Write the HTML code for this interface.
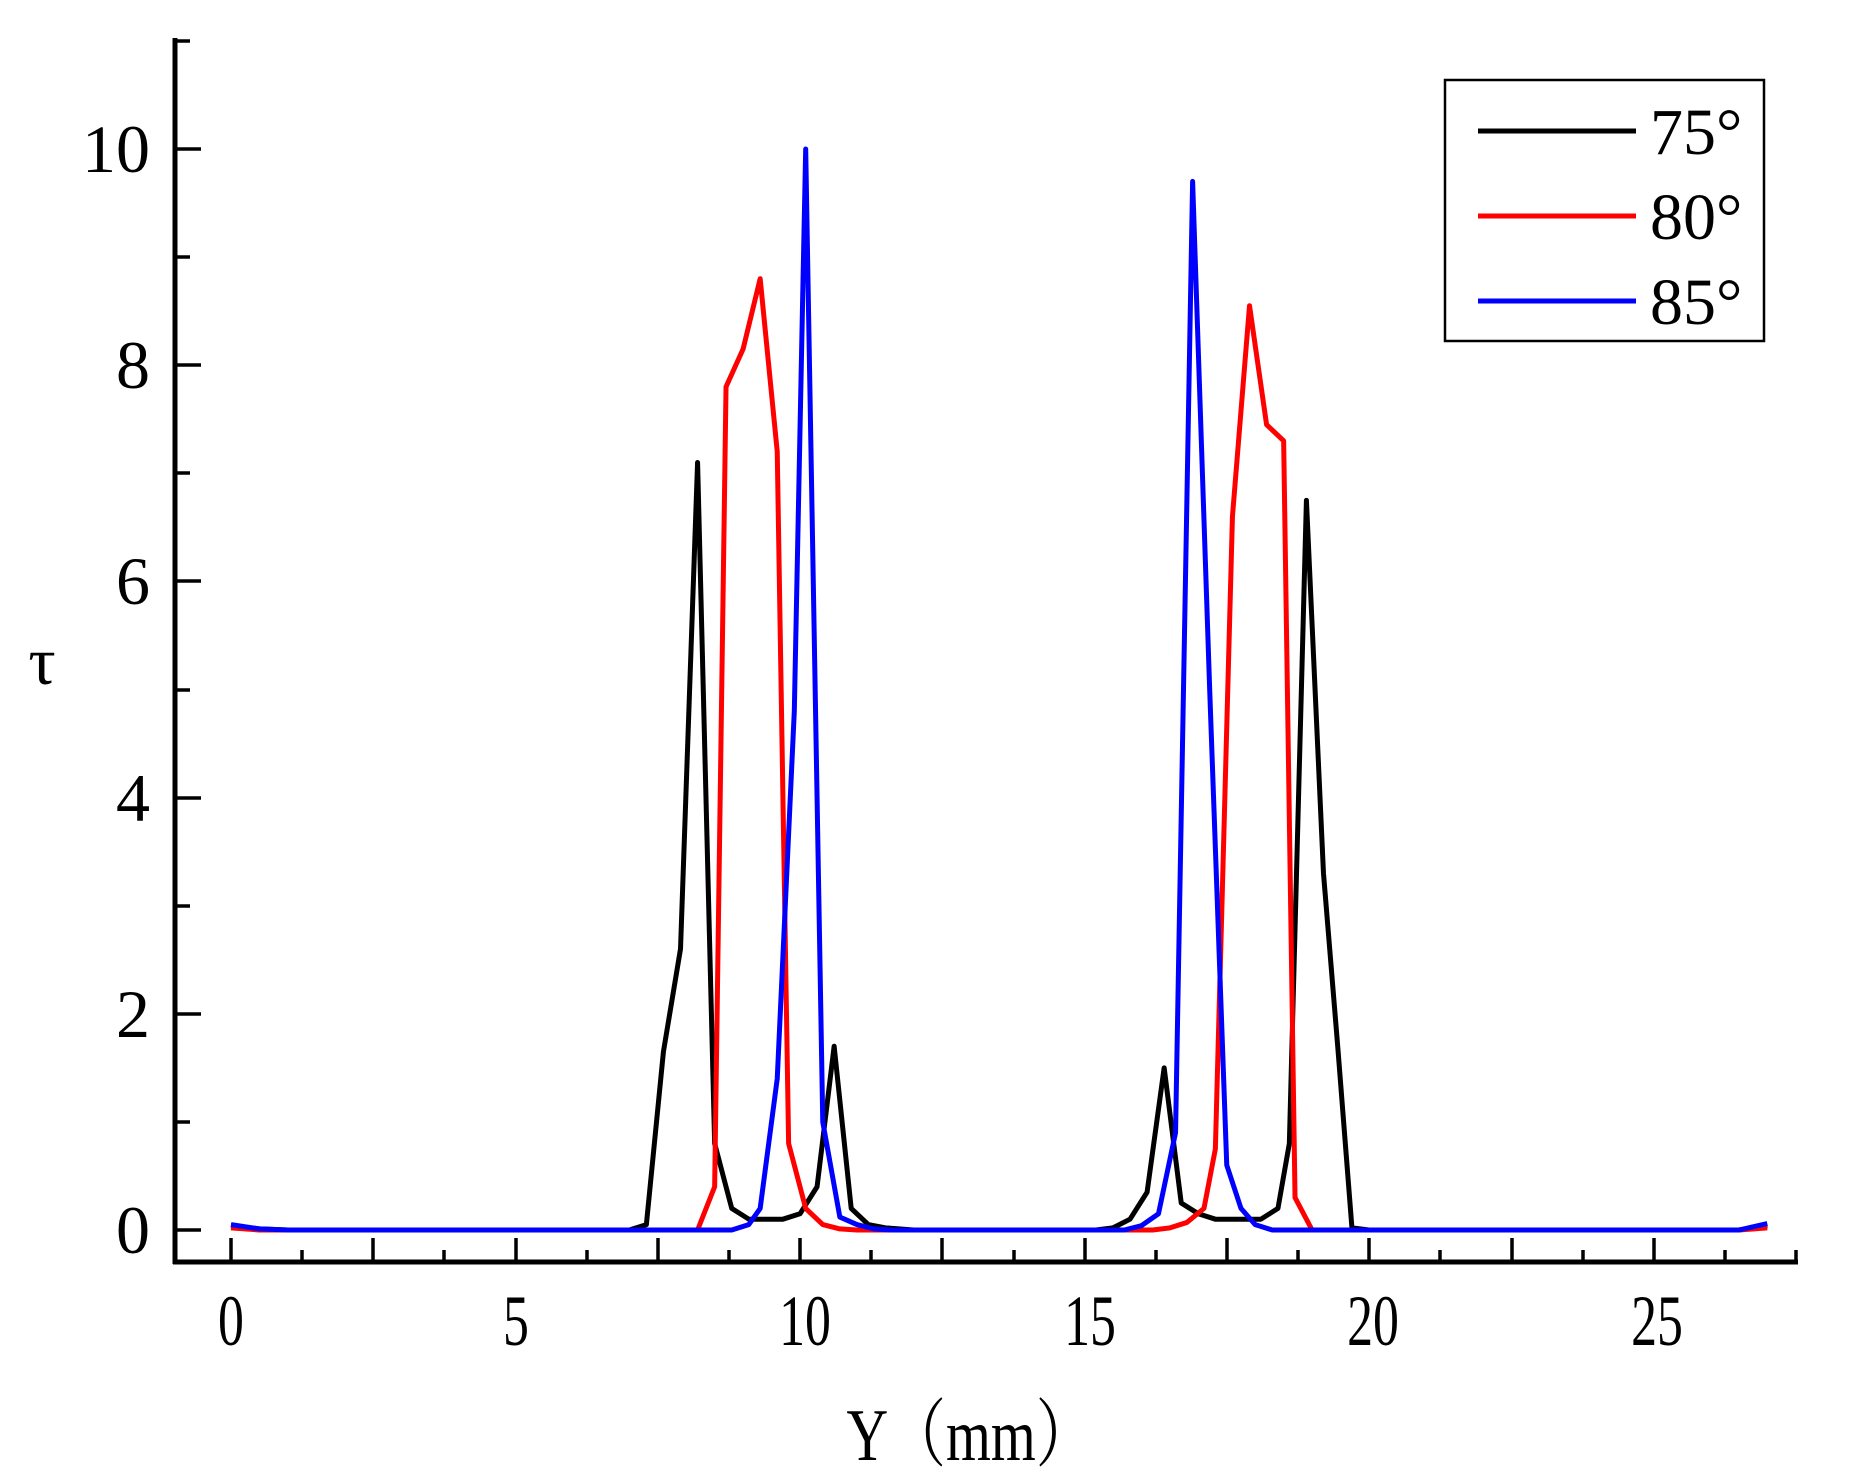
<!DOCTYPE html>
<html><head><meta charset="utf-8"><style>
html,body{margin:0;padding:0;background:#fff}
svg{display:block}
text{font-family:"Liberation Serif","Noto Serif CJK SC",serif;fill:#000}
</style></head><body>
<svg width="1851" height="1480" viewBox="0 0 1851 1480" xmlns="http://www.w3.org/2000/svg">
<g stroke="#000" fill="none">
<line x1="175" y1="38" x2="175" y2="1264" stroke-width="5"/>
<line x1="173" y1="1262" x2="1798" y2="1262" stroke-width="5"/>
<g stroke-width="3.5">
<line x1="175" y1="1230" x2="201" y2="1230"/><line x1="175" y1="1122" x2="190" y2="1122"/>
<line x1="175" y1="1014" x2="201" y2="1014"/><line x1="175" y1="906" x2="190" y2="906"/>
<line x1="175" y1="798" x2="201" y2="798"/><line x1="175" y1="690" x2="190" y2="690"/>
<line x1="175" y1="581" x2="201" y2="581"/><line x1="175" y1="473" x2="190" y2="473"/>
<line x1="175" y1="365" x2="201" y2="365"/><line x1="175" y1="257" x2="190" y2="257"/>
<line x1="175" y1="149" x2="201" y2="149"/><line x1="175" y1="41" x2="190" y2="41"/>
</g>
<g stroke-width="3.5">
<line x1="231" y1="1262" x2="231" y2="1238"/><line x1="302" y1="1262" x2="302" y2="1250"/>
<line x1="373" y1="1262" x2="373" y2="1238"/><line x1="444" y1="1262" x2="444" y2="1250"/>
<line x1="516" y1="1262" x2="516" y2="1238"/><line x1="587" y1="1262" x2="587" y2="1250"/>
<line x1="658" y1="1262" x2="658" y2="1238"/><line x1="729" y1="1262" x2="729" y2="1250"/>
<line x1="800" y1="1262" x2="800" y2="1238"/><line x1="871" y1="1262" x2="871" y2="1250"/>
<line x1="942" y1="1262" x2="942" y2="1238"/><line x1="1014" y1="1262" x2="1014" y2="1250"/>
<line x1="1085" y1="1262" x2="1085" y2="1238"/><line x1="1156" y1="1262" x2="1156" y2="1250"/>
<line x1="1227" y1="1262" x2="1227" y2="1238"/><line x1="1298" y1="1262" x2="1298" y2="1250"/>
<line x1="1369" y1="1262" x2="1369" y2="1238"/><line x1="1440" y1="1262" x2="1440" y2="1250"/>
<line x1="1512" y1="1262" x2="1512" y2="1238"/><line x1="1583" y1="1262" x2="1583" y2="1250"/>
<line x1="1654" y1="1262" x2="1654" y2="1238"/><line x1="1725" y1="1262" x2="1725" y2="1250"/>
<line x1="1796" y1="1262" x2="1796" y2="1250"/>
</g>
</g>
<g font-size="68" text-anchor="end">
<text x="150" y="1253">0</text><text x="150" y="1037">2</text><text x="150" y="821">4</text>
<text x="150" y="604">6</text><text x="150" y="388">8</text><text x="150" y="172">10</text>
</g>
<text x="42" y="684" font-size="68" text-anchor="middle">τ</text>
<g font-size="72" text-anchor="middle">
<text transform="translate(231,1345) scale(0.72,1)">0</text>
<text transform="translate(516,1345) scale(0.72,1)">5</text>
<text transform="translate(805,1345) scale(0.72,1)">10</text>
<text transform="translate(1090,1345) scale(0.72,1)">15</text>
<text transform="translate(1373,1345) scale(0.72,1)">20</text>
<text transform="translate(1657,1345) scale(0.72,1)">25</text>
</g>
<text transform="translate(970,1460) scale(0.78,1)" font-size="74" text-anchor="middle">Y（mm）</text>
<g transform="translate(231,1230) scale(56.9,-108.1)" fill="none" stroke-linejoin="round">
<polyline vector-effect="non-scaling-stroke" stroke="#000" stroke-width="5" points="0,0.04 0.5,0.01 1,0 7.0,0 7.3,0.05 7.6,1.65 7.9,2.6 8.2,7.1 8.5,0.8 8.8,0.2 9.1,0.1 9.4,0.1 9.7,0.1 10.0,0.15 10.3,0.4 10.6,1.7 10.9,0.2 11.2,0.05 11.5,0.02 12,0 15.2,0 15.5,0.02 15.8,0.1 16.1,0.35 16.4,1.5 16.7,0.25 17.0,0.15 17.3,0.1 17.8,0.1 18.1,0.1 18.4,0.2 18.6,0.8 18.9,6.75 19.2,3.3 19.45,1.7 19.7,0.02 20,0 26.5,0 27,0.04"/>
<polyline vector-effect="non-scaling-stroke" stroke="#f00" stroke-width="5" points="0,0.02 0.5,0 8.2,0 8.5,0.4 8.7,7.8 9.0,8.15 9.3,8.8 9.6,7.2 9.8,0.8 10.1,0.2 10.4,0.05 10.7,0.01 11,0 16.2,0 16.5,0.02 16.8,0.07 17.1,0.2 17.3,0.75 17.6,6.6 17.9,8.55 18.2,7.45 18.5,7.3 18.7,0.3 19.0,0 26.5,0 27,0.02"/>
<polyline vector-effect="non-scaling-stroke" stroke="#00f" stroke-width="5" points="0,0.05 0.5,0.01 1,0 8.8,0 9.1,0.05 9.3,0.2 9.6,1.4 9.9,4.8 10.1,10.0 10.4,1.0 10.7,0.12 11.0,0.05 11.3,0.01 11.6,0 15.7,0 16.0,0.04 16.3,0.15 16.6,0.9 16.9,9.7 17.2,5.0 17.5,0.6 17.75,0.2 18.0,0.05 18.3,0 26.5,0 27,0.06"/>
</g>
<rect x="1445" y="80" width="319" height="261" fill="#fff" stroke="#000" stroke-width="2.5"/>
<line x1="1478" y1="131" x2="1636" y2="131" stroke="#000" stroke-width="5"/>
<line x1="1478" y1="216" x2="1636" y2="216" stroke="#f00" stroke-width="5"/>
<line x1="1478" y1="301" x2="1636" y2="301" stroke="#00f" stroke-width="5"/>
<g font-size="66">
<text x="1650" y="154">75°</text><text x="1650" y="239">80°</text><text x="1650" y="324">85°</text>
</g>
</svg>
</body></html>
